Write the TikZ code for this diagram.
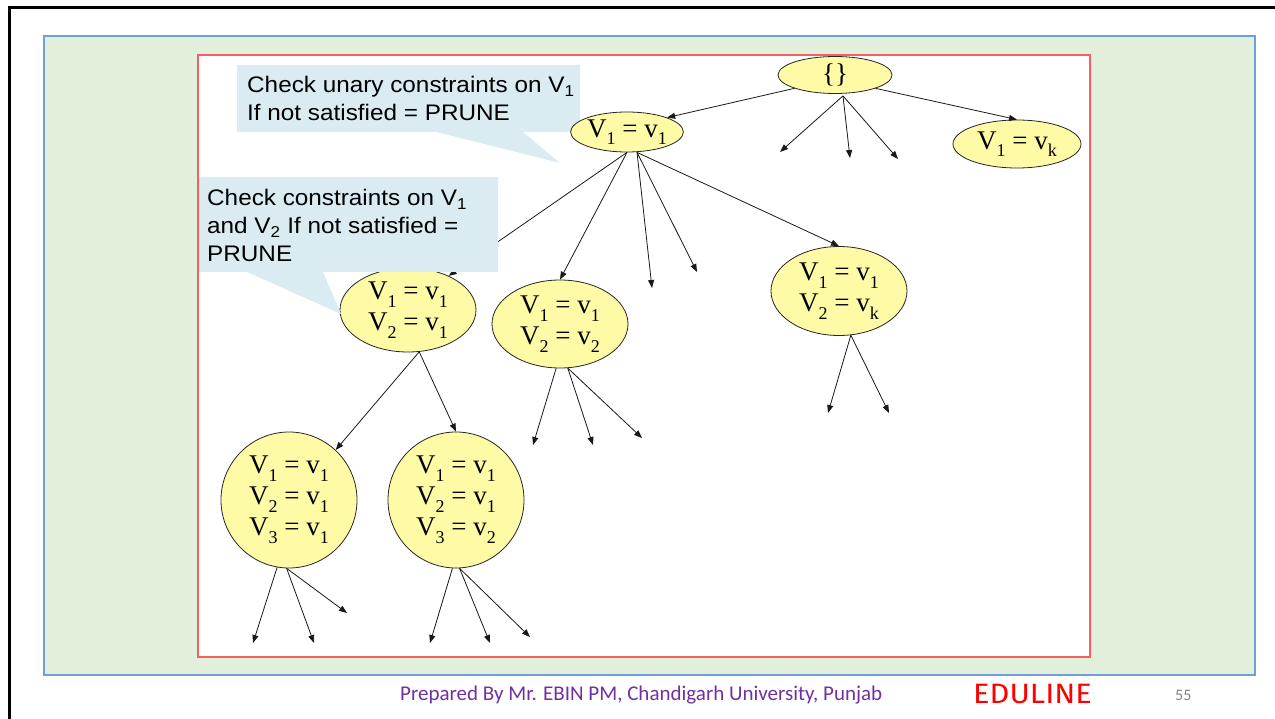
\documentclass[tikz,border=0pt]{standalone}
\usepackage{fontspec}
\usepackage{graphicx}
\setmainfont{Liberation Sans}
\newfontfamily\tms{Liberation Serif}
\newfontfamily\footfont{Carlito}
\newfontfamily\markfont{Fira Sans}
\usetikzlibrary{shapes.geometric,arrows.meta,calc}

\definecolor{panelgreen}{RGB}{226,239,218}
\definecolor{panelblue}{RGB}{110,160,215}
\definecolor{framered}{RGB}{245,95,95}
\definecolor{nodeyellow}{RGB}{255,250,165}
\definecolor{noteblue}{RGB}{218,236,242}
\definecolor{footpurple}{RGB}{112,48,160}
\definecolor{pagegray}{RGB}{130,130,130}

% subscript set a little lower than the default
\newcommand\lowsub[1]{\raisebox{-0.28em}{\fontsize{18}{18}\selectfont #1}}
% callout text is slightly wide
\newcommand\wide[1]{\scalebox{1.08}[1]{#1}}

\begin{document}
\begin{tikzpicture}[x=1pt,y=-1pt,
  state/.style={ellipse, draw=black!85, line width=0.8pt, fill=nodeyellow,
    inner sep=0pt, align=center, font=\tms\fontsize{27}{31}\selectfont},
  link/.style={line width=0.8pt, draw=black!90, -{Triangle[length=8pt,width=6pt]}},
  note/.style={fill=noteblue, draw=none},
  notetext/.style={anchor=base west, inner sep=0pt, font=\fontsize{22.5}{28}\selectfont}
]
\useasboundingbox (0,0) rectangle (1275,719);

% slide frame
\draw[line width=3pt, line cap=rect] (1275,8) -- (9,8) -- (9,719);

% green panel and red drawing area
\draw[fill=panelgreen, draw=panelblue, line width=1.3pt] (44,36) rectangle (1255,675);
\draw[fill=white, draw=framered, line width=1.3pt] (198,55) rectangle (1090,657);

% first note (lies under the tree nodes)
\path[note] (237,65) -- (580,65) -- (580,132) -- (523,132) -- (560,163)
  -- (436,132) -- (237,132) -- cycle;
\node[notetext] (t1a) at (247,93) {\wide{Check unary constraints on V\textsubscript{1}}};
\node[notetext] (t1b) at (247,121) {\wide{If not satisfied = PRUNE}};

% search tree nodes
\node[state, minimum width=114pt, minimum height=37pt] (root) at (835,75) {\{\}};
\node[state, minimum width=110pt, minimum height=40pt] (n1) at (627,132)
  {V\lowsub{1} = v\lowsub{1}};
\node[state, minimum width=128pt, minimum height=48pt] (nk) at (1017,144)
  {V\lowsub{1} = v\lowsub{k}};
\node[state, minimum width=136pt, minimum height=84pt] (n11) at (408,310)
  {V\lowsub{1} = v\lowsub{1}\\V\lowsub{2} = v\lowsub{1}};
\node[state, minimum width=136pt, minimum height=88pt] (n12) at (560,324)
  {V\lowsub{1} = v\lowsub{1}\\V\lowsub{2} = v\lowsub{2}};
\node[state, minimum width=136pt, minimum height=89pt] (n1k) at (839,291)
  {V\lowsub{1} = v\lowsub{1}\\V\lowsub{2} = v\lowsub{k}};
\node[state, minimum width=136pt, minimum height=136pt] (n111) at (289,500)
  {V\lowsub{1} = v\lowsub{1}\\V\lowsub{2} = v\lowsub{1}\\V\lowsub{3} = v\lowsub{1}};
\node[state, minimum width=136pt, minimum height=136pt] (n112) at (456,500)
  {V\lowsub{1} = v\lowsub{1}\\V\lowsub{2} = v\lowsub{1}\\V\lowsub{3} = v\lowsub{2}};

% loose ends of branches that are not expanded
\coordinate (r1) at (780,152);
\coordinate (r2) at (850,158);
\coordinate (r3) at (898,159);
\coordinate (a1) at (652,288);
\coordinate (a2) at (697,272);
\coordinate (b1) at (533,445);
\coordinate (b2) at (593,445);
\coordinate (b3) at (642,438);
\coordinate (c1) at (828,413);
\coordinate (c2) at (889,413);
\coordinate (d1) at (253,643);
\coordinate (d2) at (314,643);
\coordinate (d3) at (347,613);
\coordinate (e1) at (430,643);
\coordinate (e2) at (490,643);
\coordinate (e3) at (530,637);

% branches from the root
\draw[link] (root.south west) -- (n1.north east);
\draw[link] (root.south east) -- (nk.north);
\draw[link] ($(root.south)+(8,2)$) -- (r1);
\draw[link] ($(root.south)+(8,2)$) -- (r2);
\draw[link] ($(root.south)+(8,2)$) -- (r3);

% branches from V1 = v1
\draw[link] (n1.south) -- (n11.40);
\draw[link] (n1.south) -- (n12.north);
\draw[link] ($(n1.south)+(10,0)$) -- (a1);
\draw[link] ($(n1.south)+(10,0)$) -- (a2);
\draw[link] ($(n1.south)+(10,0)$) -- (n1k.north);

% second level
\draw[link] (n11.-75) -- (n111.47);
\draw[link] (n11.-75) -- (n112.north);
\draw[link] (n12.-95) -- (b1);
\draw[link] (n12.-80) -- (b2);
\draw[link] (n12.-80) -- (b3);
\draw[link] (n1k.-75) -- (c1);
\draw[link] (n1k.-75) -- (c2);

% third level
\draw[link] (n111.-100) -- (d1);
\draw[link] (n111.-92) -- (d2);
\draw[link] (n111.-92) -- (d3);
\draw[link] (n112.-93) -- (e1);
\draw[link] (n112.-87) -- (e2);
\draw[link] (n112.-87) -- (e3);

% second note (lies over the tree)
\path[note] (199,177) -- (498,177) -- (498,272) -- (323,272) -- (341,314)
  -- (247,272) -- (199,272) -- cycle;
\node[notetext] (t2a) at (207,206) {\wide{Check constraints on V\textsubscript{1}}};
\node[notetext] (t2b) at (207,234) {\wide{and V\textsubscript{2} If not satisfied =}};
\node[notetext] (t2c) at (207,262) {\wide{PRUNE}};

% footer
\node[anchor=base west, inner sep=0pt, text=footpurple,
  font=\footfont\fontsize{21}{24}\selectfont] (foot) at (400,700)
  {Prepared By Mr. EBIN PM, Chandigarh University, Punjab};
\node[anchor=base west, inner sep=0pt, text=red,
  font=\markfont\fontsize{28}{30}\selectfont] (brand) at (973,703)
  {\scalebox{1.1}[1]{EDULINE}};
\node[anchor=base west, inner sep=0pt, text=pagegray,
  font=\footfont\fontsize{16}{18}\selectfont] (page) at (1175,700) {55};
\end{tikzpicture}
\end{document}
